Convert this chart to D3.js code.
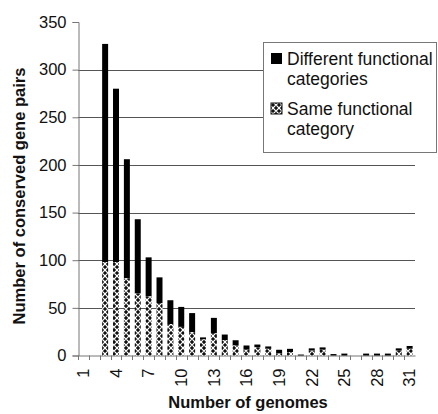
<!DOCTYPE html>
<html><head><meta charset="utf-8">
<script src="https://cdn.jsdelivr.net/npm/d3@7"></script>
<style>body{margin:0;background:#fff}svg{display:block;font-family:"Liberation Sans",Arial,sans-serif}</style>
</head><body><svg id="c" width="438" height="414"></svg>
<script>
const genomes = d3.range(1, 32);
const totalPairs = [0,0,327,280,206,143,103,82,58,51,44.5,19,39.5,22,16,10.5,11.5,9.5,6,7,1,7.5,8.5,1.5,2,0,2,2,2,7.5,10];
const samePairs  = [0,0,98,98,81,65,62,55,33,30,24.5,17,23.5,16,10.5,6,8.5,7,2,3.5,0,5,6,0,0,0,0,0,0,5,7];
const yTicks = [0,50,100,150,200,250,300,350];
const xTickLabels = [1,4,7,10,13,16,19,22,25,28,31];
const legendItems = ["Different functional|categories","Same functional|category"];

const svg = d3.select("#c");
const x = d3.scaleBand().domain(genomes).range([78, 415]).paddingInner(0.45).paddingOuter(0.22);
const y = d3.scaleLinear().domain([0, 350]).range([355.5, 22]);

const defs = svg.append("defs");
const pat = defs.append("pattern").attr("id","hatch").attr("patternUnits","userSpaceOnUse")
  .attr("width",6).attr("height",6);
pat.append("rect").attr("width",6).attr("height",6).attr("fill","#111");
pat.append("path").attr("d","M0,3 L3,0 L6,3 L3,6 Z").attr("fill","none").attr("stroke","#fff").attr("stroke-width",1.2);

// gridlines
svg.append("g").selectAll("line").data(yTicks.filter(d=>d>0 && d<350)).join("line")
  .attr("x1",78).attr("x2",415).attr("y1",d=>Math.round(y(d))+0.5).attr("y2",d=>Math.round(y(d))+0.5)
  .attr("stroke","#555").attr("stroke-width",1);

// y axis
const ya = svg.append("g").attr("transform","translate(78.5,0)")
  .call(d3.axisLeft(y).tickValues(yTicks).tickSize(6).tickPadding(6));
ya.select(".domain").attr("stroke","#777");
ya.selectAll(".tick line").attr("stroke","#777");
ya.selectAll("text").attr("font-size",16.5).attr("fill","#111").attr("font-family","Liberation Sans, Arial, sans-serif");

// x axis
const xa = svg.append("g").attr("transform","translate(0,355.5)")
  .call(d3.axisBottom(x).tickValues(xTickLabels).tickSize(0));
xa.select(".domain").attr("stroke","#777");
xa.selectAll("text").attr("font-size",16.5).attr("fill","#111").attr("font-family","Liberation Sans, Arial, sans-serif")
  .attr("transform","rotate(-90)").attr("text-anchor","end").attr("dy","0.35em").attr("x",-13).attr("y",0);
// boundary tick marks
svg.append("g").selectAll("line").data(genomes).join("line")
  .attr("x1",d=>Math.round(x(d)-x.step()*x.paddingInner()/2)+0.5)
  .attr("x2",d=>Math.round(x(d)-x.step()*x.paddingInner()/2)+0.5)
  .attr("y1",355.5).attr("y2",360).attr("stroke","#777");

// bars
const bars = svg.append("g");
genomes.forEach((g,i)=>{
  const tot = totalPairs[i], same = samePairs[i];
  if (tot <= 0) return;
  bars.append("rect").attr("x",x(g)).attr("width",x.bandwidth())
    .attr("y",y(tot)).attr("height",y(same)-y(tot)).attr("fill","#000");
  if (same > 0) bars.append("rect").attr("x",x(g)).attr("width",x.bandwidth())
    .attr("y",y(same)).attr("height",y(0)-y(same)).attr("fill","url(#hatch)");
});

// legend
const lg = svg.append("g");
lg.append("rect").attr("x",263.5).attr("y",42.5).attr("width",173).attr("height",110)
  .attr("fill","#fff").attr("stroke","#777");
legendItems.forEach((t,i)=>{
  const yy = 52 + i*50;
  lg.append("rect").attr("x",271).attr("y",yy+1).attr("width",11).attr("height",11)
    .attr("fill", i===0 ? "#000" : "url(#hatch)").attr("stroke", i===0?"none":"#111");
  t.split("|").forEach((s,j)=>{
    lg.append("text").attr("x",287).attr("y",yy+13+j*20).attr("font-size",17.5).attr("fill","#111").text(s);
  });
});

// titles
svg.append("text").attr("transform","translate(25,196) rotate(-90)").attr("text-anchor","middle")
  .attr("font-size",16.5).attr("font-weight","bold").attr("fill","#111").text("Number of conserved gene pairs");
svg.append("text").attr("x",248).attr("y",408).attr("text-anchor","middle")
  .attr("font-size",16.5).attr("font-weight","bold").attr("fill","#111").text("Number of genomes");
</script></body></html>
